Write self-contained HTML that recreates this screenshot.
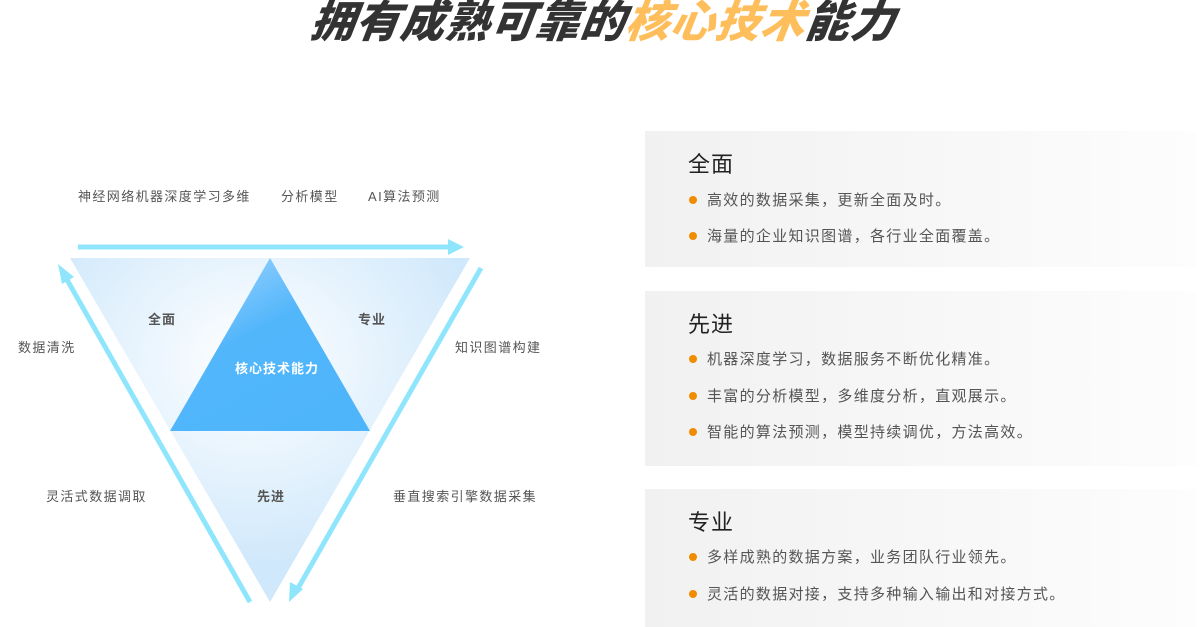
<!DOCTYPE html>
<html><head><meta charset="utf-8"><style>
body{margin:0;width:1200px;height:627px;overflow:hidden;background:#fff;font-family:"Liberation Sans","Noto Sans CJK SC",sans-serif;position:relative}
.a{position:absolute;white-space:nowrap}
.l{font-size:13px;color:#555;letter-spacing:1.4px}
.t{font-size:13px;color:#555;font-weight:bold;letter-spacing:1px}
.p{position:absolute;left:645px;width:551px;background:linear-gradient(90deg,#f1f1f1,#f8f8f8 60%,#fdfdfd)}
.h{position:absolute;left:43px;font-size:22px;color:#222;letter-spacing:1px}
.b{position:absolute;left:62px;font-size:15px;color:#555;letter-spacing:1.3px}
.b:before{content:"";position:absolute;left:-18px;top:7px;width:8px;height:8px;border-radius:50%;background:#f08c00}
</style></head><body>
<div class="a" style="left:304px;top:-14px;width:600px;text-align:center;font-size:44px;font-weight:900;font-style:italic;color:#333;letter-spacing:1px;transform:skewX(-8deg)">拥有成熟可靠的<span style="color:#ffbe5c">核心技术</span>能力</div>
<svg class="a" style="left:0;top:0" width="600" height="627">
<defs>
<radialGradient id="g1" cx="0.45" cy="0.3" r="0.6"><stop offset="0" stop-color="#fff"/><stop offset="1" stop-color="#cfe8fb"/></radialGradient>
<linearGradient id="g2" x1="0" y1="0" x2="0.6" y2="1"><stop offset="0" stop-color="#a8d8fd"/><stop offset="0.5" stop-color="#52b6fb"/><stop offset="1" stop-color="#4fb5fb"/></linearGradient>
</defs>
<polygon points="70,258 470,258 270,602" fill="url(#g1)"/>
<polygon points="270,258 370,431 170,431" fill="url(#g2)"/>
<g stroke="#8fe6fc" stroke-width="5" fill="#8fe6fc">
<line x1="78" y1="247" x2="450" y2="247"/>
<line x1="250" y1="602" x2="66" y2="278"/>
<line x1="481" y1="268" x2="297" y2="590"/>
</g>
<g fill="#8fe6fc">
<polygon points="464,247 448,239 448,255"/>
<polygon points="58,264 62,284 74,277"/>
<polygon points="289,602 290,582 303,589"/>
</g>
</svg>
<div class="a l" style="left:78px;top:186px">神经网络机器深度学习多维</div>
<div class="a l" style="left:281px;top:186px">分析模型</div>
<div class="a l" style="left:368px;top:186px">AI算法预测</div>
<div class="a l" style="left:18px;top:337px">数据清洗</div>
<div class="a l" style="left:455px;top:337px">知识图谱构建</div>
<div class="a l" style="left:46px;top:486px">灵活式数据调取</div>
<div class="a l" style="left:393px;top:486px">垂直搜索引擎数据采集</div>
<div class="a t" style="left:148px;top:309px">全面</div>
<div class="a t" style="left:358px;top:309px">专业</div>
<div class="a t" style="left:257px;top:486px">先进</div>
<div class="a t" style="left:235px;top:358px;color:#fff">核心技术能力</div>
<div class="p" style="top:131px;height:136px">
<div class="h" style="top:16px">全面</div>
<div class="b" style="top:58px">高效的数据采集，更新全面及时。</div>
<div class="b" style="top:94px">海量的企业知识图谱，各行业全面覆盖。</div>
</div>
<div class="p" style="top:291px;height:175px">
<div class="h" style="top:16px">先进</div>
<div class="b" style="top:57px">机器深度学习，数据服务不断优化精准。</div>
<div class="b" style="top:94px">丰富的分析模型，多维度分析，直观展示。</div>
<div class="b" style="top:130px">智能的算法预测，模型持续调优，方法高效。</div>
</div>
<div class="p" style="top:489px;height:138px">
<div class="h" style="top:16px">专业</div>
<div class="b" style="top:57px">多样成熟的数据方案，业务团队行业领先。</div>
<div class="b" style="top:94px">灵活的数据对接，支持多种输入输出和对接方式。</div>
</div>
</body></html>
